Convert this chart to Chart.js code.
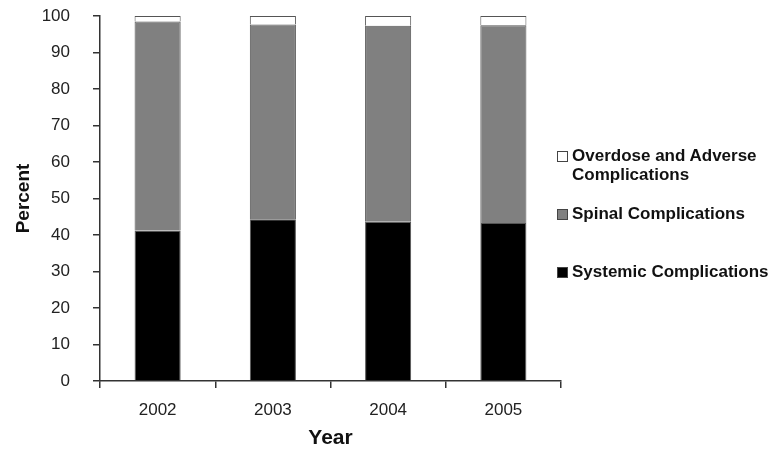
<!DOCTYPE html>
<html>
<head>
<meta charset="utf-8">
<script src="https://cdn.jsdelivr.net/npm/chart.js@4.4.1/dist/chart.umd.min.js"></script>
<style>
  body { margin: 0; background: #fff; }
  #wrap { position: relative; width: 771px; height: 454px; }
  #legend { position: absolute; left: 557px; top: 0; font-family: "Liberation Sans", Arial, sans-serif; font-weight: bold; font-size: 17px; color: #111; }
  .item { position: absolute; left: 0; width: 214px; padding-left: 15px; line-height: 19px; white-space: nowrap; }
  .box { position: absolute; left: 0; top: 5px; width: 9px; height: 9px; border: 1px solid #444; }
</style>
</head>
<body>
<div id="wrap">
  <canvas id="chart" width="771" height="454"></canvas>
  <div id="legend"></div>
</div>
<script>
// datos
var years = ['2002', '2003', '2004', '2005'];
var systemic = [41.2, 44.3, 43.6, 43.3];
var spinal = [57.3, 53.4, 53.7, 54.2];
var overdose = [1.5, 2.3, 2.7, 2.5];

var seriesNames = ['Systemic Complications', 'Spinal Complications', 'Overdose and Adverse<br>Complications'];
var seriesColors = ['#000000', '#808080', '#ffffff'];

document.addEventListener('DOMContentLoaded', function () {
    var ctx = document.getElementById('chart').getContext('2d');
    var font = "'Liberation Sans', Arial, sans-serif";

    var datasets = [systemic, spinal, overdose].map(function (vals, i) {
        return {
            label: seriesNames[i].replace('<br>', ' '),
            data: vals,
            backgroundColor: seriesColors[i],
            borderColor: '#555555',
            borderWidth: 1,
            barPercentage: 0.4,
            categoryPercentage: 1
        };
    });

    new Chart(ctx, {
        type: 'bar',
        data: { labels: years, datasets: datasets },
        options: {
            responsive: false,
            animation: false,
            layout: { padding: { top: 0, right: 210, left: 0, bottom: 3 } },
            plugins: { legend: { display: false }, tooltip: { enabled: false } },
            scales: {
                x: {
                    stacked: true,
                    grid: { drawOnChartArea: false, color: '#333', tickLength: 7, lineWidth: 1.5 },
                    border: { color: '#333', width: 1.5 },
                    ticks: { color: '#222', font: { family: font, size: 17 }, padding: 12 },
                    title: { display: true, text: 'Year', color: '#111', font: { family: font, size: 21, weight: 'bold' }, padding: { top: 0, bottom: 0 } },
                    afterFit: function (scale) {
                        scale.height = 70;
                    }
                },
                y: {
                    stacked: true,
                    min: 0,
                    max: 100,
                    grid: { drawOnChartArea: false, color: '#333', tickLength: 7, lineWidth: 1.5 },
                    border: { color: '#333', width: 1.5 },
                    ticks: { stepSize: 10, color: '#222', font: { family: font, size: 17 }, padding: 23 },
                    title: { display: true, text: 'Percent', color: '#111', font: { family: font, size: 19, weight: 'bold' }, padding: { top: 12, bottom: 0 } },
                    afterFit: function (scale) {
                        // ancho fijo del eje y, sin relleno extra arriba
                        scale.width = 100;
                        scale.paddingTop = 16;
                        scale.paddingBottom = 10;
                    }
                }
            }
        }
    });

    // leyenda a la derecha, en orden inverso
    var legend = document.getElementById('legend');
    var tops = [262, 204, 146];
    for (var i = seriesNames.length - 1; i >= 0; i--) {
        var item = document.createElement('div');
        item.className = 'item';
        item.style.top = tops[i] + 'px';
        item.innerHTML = '<span class="box" style="background:' + seriesColors[i] + '"></span>' + seriesNames[i];
        legend.appendChild(item);
    }
});
</script>
</body>
</html>
